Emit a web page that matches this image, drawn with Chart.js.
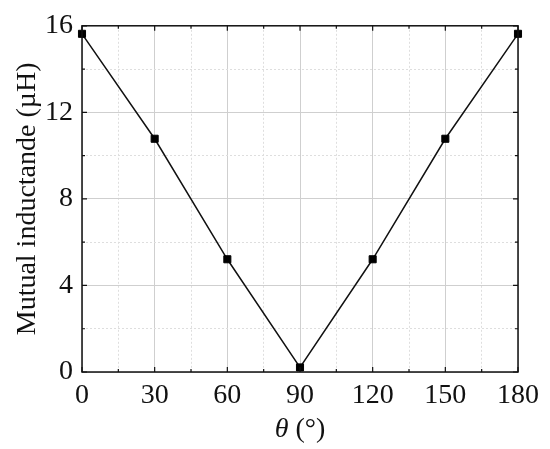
<!DOCTYPE html>
<html>
<head>
<meta charset="utf-8">
<script src="https://cdn.jsdelivr.net/npm/chart.js@4"></script>
<style>
  html, body { margin: 0; padding: 0; background: #fff; }
  #wrap { width: 550px; height: 449px; }
</style>
</head>
<body>
<div id="wrap"><canvas id="inductance"></canvas></div>
<script>
// Data
const angles = [0, 30, 60, 90, 120, 150, 180];
const inductance = [15.63, 10.78, 5.21, 0.21, 5.21, 10.78, 15.63];
const xTicks = [0, 30, 60, 90, 120, 150, 180];
const yTicks = [0, 4, 8, 12, 16];

const serif = "'Liberation Serif', 'Times New Roman', serif";

// dotted minor grid lines, solid major ones
function isMajor(value, majors) {
    return majors.includes(value);
}

// Draws the black frame with inward ticks on all four sides, plus the x title
const framePlugin = {
    id: "frame",
    afterDraw(chart) {
        const ctx = chart.ctx;
        const area = chart.chartArea;
        const xs = chart.scales.x;
        const ys = chart.scales.y;
        ctx.save();
        ctx.strokeStyle = "#111";
        ctx.lineWidth = 1.5;
        ctx.strokeRect(area.left, area.top, area.right - area.left, area.bottom - area.top);

        ctx.lineWidth = 1.2;
        ctx.beginPath();
        xs.ticks.forEach(function (t) {
            const px = xs.getPixelForValue(t.value);
            const len = isMajor(t.value, xTicks) ? 5 : 3;
            ctx.moveTo(px, area.bottom);
            ctx.lineTo(px, area.bottom - len);
            ctx.moveTo(px, area.top);
            ctx.lineTo(px, area.top + len);
        });
        ys.ticks.forEach(function (t) {
            const py = ys.getPixelForValue(t.value);
            const len = isMajor(t.value, yTicks) ? 5 : 3;
            ctx.moveTo(area.left, py);
            ctx.lineTo(area.left + len, py);
            ctx.moveTo(area.right, py);
            ctx.lineTo(area.right - len, py);
        });
        ctx.stroke();

        // x title: italic theta then "(°)"
        ctx.fillStyle = "#111";
        ctx.textBaseline = "alphabetic";
        const italic = "italic 28px " + serif;
        const normal = "28px " + serif;
        ctx.font = italic;
        const w1 = ctx.measureText("θ").width;
        ctx.font = normal;
        const w2 = ctx.measureText(" (°)").width;
        const cx = (area.left + area.right) / 2;
        const startX = cx - (w1 + w2) / 2;
        ctx.font = italic;
        ctx.fillText("θ", startX, 437);
        ctx.font = normal;
        ctx.fillText(" (°)", startX + w1, 437);
        ctx.restore();
    }
};

new Chart("inductance", {
    type: "line",
    data: {
        labels: angles,
        datasets: [{
            data: angles.map(function (a, i) { return { x: a, y: inductance[i] }; }),
            borderColor: "#111",
            borderWidth: 1.5,
            backgroundColor: "#000",
            pointStyle: "rect",
            pointRadius: 5,
            pointBorderWidth: 1,
            pointBorderColor: "#000",
            tension: 0,
            clip: false
        }]
    },
    options: {
        responsive: true,
        maintainAspectRatio: false,
        animation: false,
        layout: { padding: { left: 0, right: 32, top: 22, bottom: 0 } },
        plugins: {
            legend: { display: false },
            tooltip: { enabled: false }
        },
        scales: {
            x: {
                type: "linear",
                min: 0,
                max: 180,
                afterFit: function (scale) { scale.height = 77; },
                ticks: {
                    stepSize: 15,
                    autoSkip: false,
                    maxRotation: 0,
                    padding: 7,
                    color: "#111",
                    font: { family: serif, size: 28 },
                    callback: function (v) { return isMajor(v, xTicks) ? String(v) : ""; }
                },
                grid: {
                    drawTicks: false,
                    color: function (c) { return c.tick && isMajor(c.tick.value, xTicks) ? "#cfcfcf" : "#dedede"; },
                    lineWidth: 1
                },
                border: {
                    display: false,
                    dash: function (c) { return c.tick && !isMajor(c.tick.value, xTicks) ? [2, 2] : []; }
                }
            },
            y: {
                min: 0,
                max: 16,
                afterFit: function (scale) { scale.width = 82; },
                ticks: {
                    stepSize: 2,
                    autoSkip: false,
                    padding: 9,
                    color: "#111",
                    font: { family: serif, size: 28 },
                    callback: function (v) { return isMajor(v, yTicks) ? String(v) : ""; }
                },
                grid: {
                    drawTicks: false,
                    color: function (c) { return c.tick && isMajor(c.tick.value, yTicks) ? "#cfcfcf" : "#dedede"; },
                    lineWidth: 1
                },
                border: {
                    display: false,
                    dash: function (c) { return c.tick && !isMajor(c.tick.value, yTicks) ? [2, 2] : []; }
                },
                title: {
                    display: true,
                    text: "Mutual inductande (µH)",
                    color: "#111",
                    font: { family: serif, size: 28, lineHeight: 1 },
                    padding: { top: 14, bottom: 0 }
                }
            }
        }
    },
    plugins: [framePlugin]
});
</script>
</body>
</html>
